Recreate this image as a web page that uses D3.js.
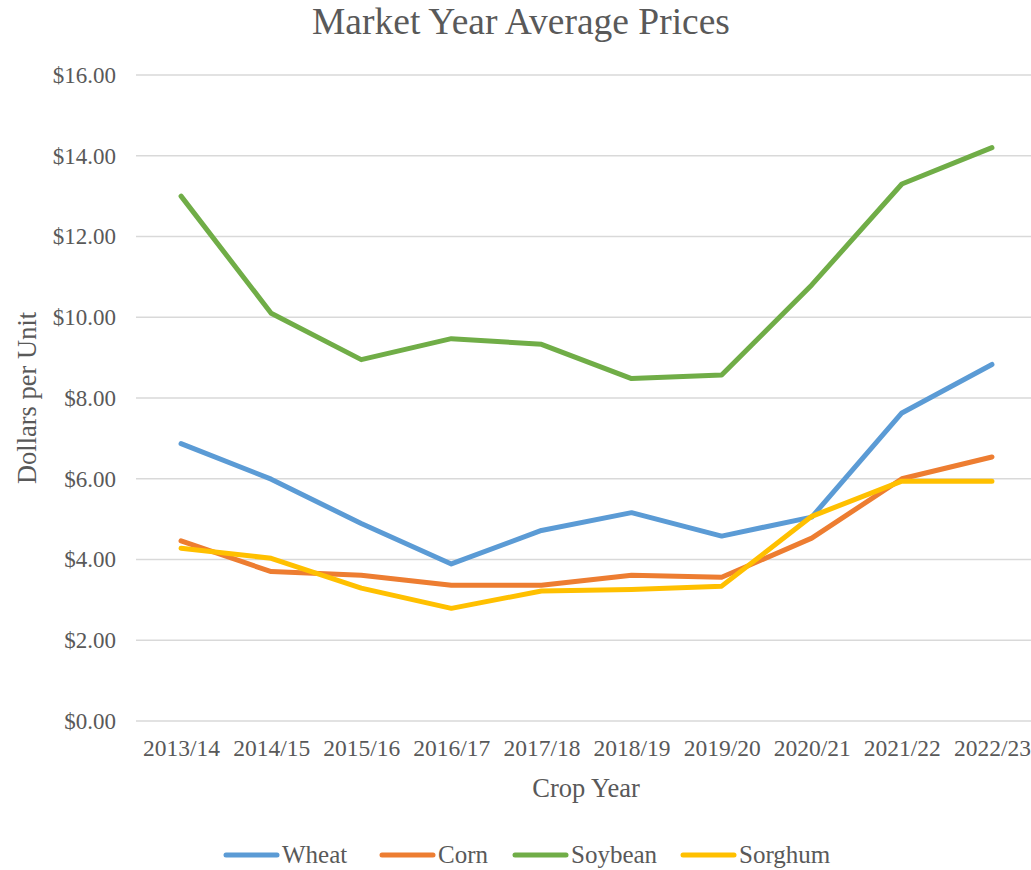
<!DOCTYPE html>
<html><head><meta charset="utf-8">
<script src="https://cdn.jsdelivr.net/npm/d3@7"></script>
<style>body{margin:0;background:#fff}svg{display:block}text{font-family:"Liberation Serif","Times New Roman",serif;fill:#595959}</style>
</head><body><svg id="c" width="1031" height="870"></svg>
<script>
const categories = ["2013/14","2014/15","2015/16","2016/17","2017/18","2018/19","2019/20","2020/21","2021/22","2022/23"];
const wheat   = [6.87, 5.99, 4.89, 3.89, 4.72, 5.16, 4.58, 5.05, 7.63, 8.83];
const corn    = [4.46, 3.70, 3.61, 3.36, 3.36, 3.61, 3.56, 4.53, 6.00, 6.54];
const soybean = [13.00, 10.10, 8.95, 9.47, 9.33, 8.48, 8.57, 10.80, 13.30, 14.20];
const sorghum = [4.28, 4.03, 3.29, 2.79, 3.22, 3.26, 3.34, 5.07, 5.94, 5.94];
const seriesNames = ["Wheat","Corn","Soybean","Sorghum"];
const seriesValues = [wheat, corn, soybean, sorghum];
const colors = ["#5B9BD5","#ED7D31","#70AD47","#FFC000"];
const yTicks = [0,2,4,6,8,10,12,14,16];

(function(){
const svg = d3.select("#c");
const pLeft = 136, pRight = 1037, pTop = 75, pBottom = 721;
const x = d3.scalePoint().domain(categories).range([pLeft, pRight]).padding(0.5);
const y = d3.scaleLinear().domain([0,16]).range([pBottom, pTop]);

svg.append("g").selectAll("line").data(yTicks).join("line")
  .attr("x1", pLeft).attr("x2", pRight)
  .attr("y1", d=>y(d)).attr("y2", d=>y(d))
  .attr("stroke", "#d9d9d9").attr("stroke-width", 1.3);

const yAxis = svg.append("g").attr("transform", `translate(${pLeft},0)`)
  .call(d3.axisLeft(y).tickValues(yTicks).tickSize(0).tickPadding(20).tickFormat(d=>"$"+d.toFixed(2)));
yAxis.select(".domain").remove();
yAxis.selectAll("text").style("font-family","Liberation Serif").style("font-size","23px").attr("fill","#595959");

const xAxis = svg.append("g").attr("transform", `translate(0,${pBottom})`)
  .call(d3.axisBottom(x).tickSize(0).tickPadding(18));
xAxis.select(".domain").remove();
xAxis.selectAll("text").style("font-family","Liberation Serif").style("font-size","23.5px").attr("fill","#595959");

const line = d3.line().x((d,i)=>x(categories[i])).y(d=>y(d));
seriesValues.forEach((vals, k) => {
  svg.append("path").datum(vals).attr("d", line)
    .attr("fill","none").attr("stroke", colors[k]).attr("stroke-width", 5)
    .attr("stroke-linecap","round").attr("stroke-linejoin","round");
});

svg.append("text").attr("x", 521).attr("y", 34).attr("text-anchor","middle")
  .style("font-size","37.5px").text("Market Year Average Prices");
svg.append("text").attr("transform","translate(36,398) rotate(-90)").attr("text-anchor","middle")
  .style("font-size","26.5px").text("Dollars per Unit");
svg.append("text").attr("x", 586).attr("y", 797).attr("text-anchor","middle")
  .style("font-size","26.5px").text("Crop Year");

const legX = [224, 380, 513, 681];
const lg = svg.append("g");
seriesNames.forEach((n,k)=>{
  lg.append("line").attr("x1", legX[k]+2).attr("x2", legX[k]+53).attr("y1", 855).attr("y2", 855)
    .attr("stroke", colors[k]).attr("stroke-width", 5).attr("stroke-linecap","round");
  lg.append("text").attr("x", legX[k]+58).attr("y", 863).style("font-size","25px").text(n);
});
})();
</script></body></html>
